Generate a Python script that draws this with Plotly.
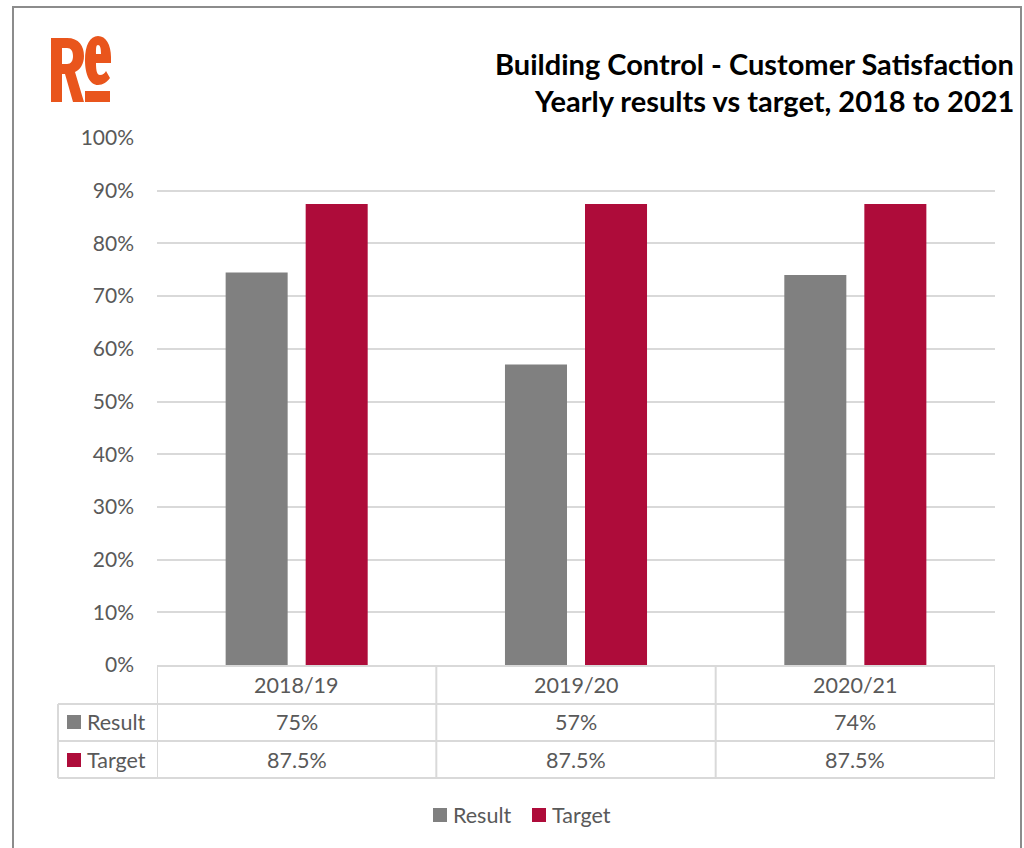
import plotly.graph_objects as go

# ---- data ----
categories = ["2018/19", "2019/20", "2020/21"]
result_values = [74.5, 57, 74]
target_values = [87.5, 87.5, 87.5]
result_labels = ["75%", "57%", "74%"]
target_labels = ["87.5%", "87.5%", "87.5%"]
series_names = ["Result", "Target"]
y_ticks = [0, 10, 20, 30, 40, 50, 60, 70, 80, 90, 100]
title_lines = ["Building Control - Customer Satisfaction", "Yearly results vs target, 2018 to 2021"]

W, H = 1024, 848
FONT = "Lato"
GRAY_TXT = "#595959"
GRID = "#d9d9d9"
C_RESULT = "#808080"
C_TARGET = "#AE0C3A"
ORANGE = "#E9551C"
series_colors = [C_RESULT, C_TARGET]


def px(x):
    return x / W


def py(y):
    return 1 - y / H


def path_px(d):
    out = []
    nums = []
    for t in d.replace(",", " ").split():
        if t.isalpha():
            out.append(t)
        else:
            nums.append(float(t))
            if len(nums) == 2:
                out.append(f"{px(nums[0]):.5f},{py(nums[1]):.5f}")
                nums = []
    return " ".join(out)


fig = go.Figure()
fig.add_trace(go.Bar(x=categories, y=result_values, name=series_names[0], showlegend=False,
                     marker=dict(color=C_RESULT, line=dict(width=0))))
fig.add_trace(go.Bar(x=categories, y=target_values, name=series_names[1], showlegend=False,
                     marker=dict(color=C_TARGET, line=dict(width=0))))

shapes = []
# frame border
shapes.append(dict(type="rect", xref="paper", yref="paper", x0=px(13), x1=px(1021), y0=py(900), y1=py(7),
                   line=dict(color="#8c8c8c", width=2), fillcolor="rgba(0,0,0,0)", layer="below"))

# data table lines
n = len(categories)
for k in range(n + 1):
    shapes.append(dict(type="line", xref="x", yref="paper", x0=k - 0.5, x1=k - 0.5,
                       y0=py(666), y1=py(778), line=dict(color=GRID, width=2)))
shapes.append(dict(type="line", xref="x", yref="paper", x0=-0.5, x1=n - 0.5,
                   y0=py(666), y1=py(666), line=dict(color=GRID, width=2)))
for yy in (704, 741, 778):
    shapes.append(dict(type="line", xref="paper", yref="paper", x0=px(58), x1=px(995),
                       y0=py(yy), y1=py(yy), line=dict(color=GRID, width=2)))
shapes.append(dict(type="line", xref="paper", yref="paper", x0=px(58), x1=px(58),
                   y0=py(704), y1=py(778), line=dict(color=GRID, width=2)))
# legend keys in table
for yc, col in ((722, C_RESULT), (760, C_TARGET)):
    shapes.append(dict(type="rect", xref="paper", yref="paper", x0=px(67), x1=px(81),
                       y0=py(yc + 7), y1=py(yc - 7), line=dict(width=0), fillcolor=col))

# bottom legend keys
legend_key_x = [433, 532]
for kx, col in zip(legend_key_x, series_colors):
    shapes.append(dict(type="rect", xref="paper", yref="paper", x0=px(kx), x1=px(kx + 14),
                       y0=py(822), y1=py(808), line=dict(width=0), fillcolor=col))

# logo "Re"
r_path = ("M 51 102 L 51 38 L 67 38 C 79 38 84 46 84 56 C 84 64 80 70 75 72 L 84 102 L 73 102 "
          "L 65 74 L 62 74 L 62 102 Z M 62 48 L 67 48 C 71 48 73 51 73 56 C 73 61 71 64 67 64 L 62 64 Z")
e_path = ("M 111 63 L 96 63 C 96 71 97 75 100 75 C 103 75 105 73 106 71 L 110 78 C 107 82 103 85 98 85 "
          "C 90 85 85 75 85 60 C 85 45 90 36 98 36 C 106 36 111 45 111 57 Z "
          "M 96 54 L 101 54 C 101 48 100 45 98 45 C 96 45 96 48 96 54 Z")
shapes.append(dict(type="path", xref="paper", yref="paper", path=path_px(r_path), fillcolor=ORANGE,
                   line=dict(width=0), fillrule="evenodd"))
shapes.append(dict(type="path", xref="paper", yref="paper", path=path_px(e_path), fillcolor=ORANGE,
                   line=dict(width=0), fillrule="evenodd"))
shapes.append(dict(type="rect", xref="paper", yref="paper", x0=px(85), x1=px(110), y0=py(102), y1=py(91),
                   fillcolor=ORANGE, line=dict(width=0)))

annotations = []
for yc, line in zip((63, 100), title_lines):
    annotations.append(dict(xref="paper", yref="paper", x=px(1016), y=py(yc), xanchor="right",
                            yanchor="middle", showarrow=False, text="<b>" + line + "</b>",
                            font=dict(family=FONT, size=29, color="#000000")))
TS = 21.5


def cell(x, y, text, xref="x", xanchor="center"):
    return dict(xref=xref, yref="paper", x=x, y=y, text=text, showarrow=False,
                xanchor=xanchor, yanchor="middle",
                font=dict(family=FONT, size=TS, color=GRAY_TXT))


for i, c in enumerate(categories):
    annotations.append(cell(i, py(685), c))
    annotations.append(cell(i, py(722), result_labels[i]))
    annotations.append(cell(i, py(760), target_labels[i]))
for yc, name in ((722, series_names[0]), (760, series_names[1])):
    annotations.append(cell(px(85), py(yc), name, xref="paper", xanchor="left"))
for kx, name in zip(legend_key_x, series_names):
    annotations.append(cell(px(kx + 18), py(815), name, xref="paper", xanchor="left"))

fig.update_layout(
    width=W, height=H, autosize=False,
    margin=dict(l=0, r=0, t=0, b=0, pad=0),
    paper_bgcolor="white", plot_bgcolor="white",
    showlegend=False,
    barmode="group", bargap=0.427, bargroupgap=0.225,
    xaxis=dict(domain=[px(157), px(995)], range=[-0.5, n - 0.5], showticklabels=False,
               showgrid=False, zeroline=False, showline=False, ticks="", automargin=False),
    yaxis=dict(domain=[py(665), py(138)], range=[0, 100], tickvals=y_ticks,
               ticktext=[f"{v}%" for v in y_ticks], showgrid=True, gridcolor=GRID, gridwidth=1.5,
               zeroline=False, showline=False, ticks="", ticklabelstandoff=22, automargin=False,
               tickfont=dict(family=FONT, size=21, color=GRAY_TXT)),
    shapes=shapes,
    annotations=annotations,
    font=dict(family=FONT),
)

fig.write_html("out.html", config={"displayModeBar": False},
               post_script="document.body.style.margin='0px';document.body.style.overflow='hidden';")
